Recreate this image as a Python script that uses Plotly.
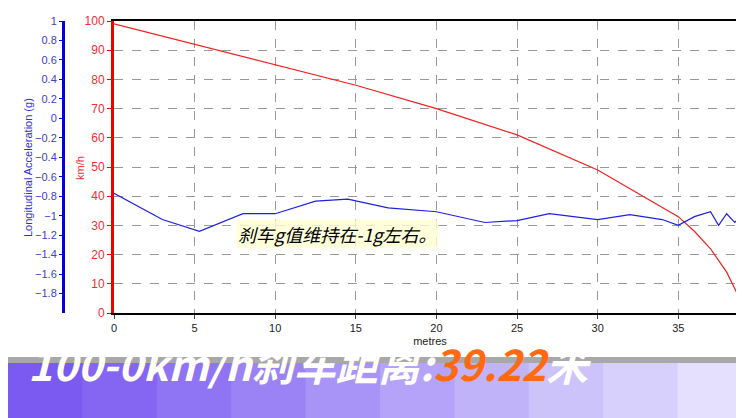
import plotly.graph_objects as go

red_x = [0, 5, 10, 15, 20, 25, 30, 33, 35, 36, 37, 38, 38.8]
red_kmh = [99, 92, 85, 78, 70, 61, 49, 39.5, 33, 28, 22, 14, 5]
blue_x = [0, 3, 5.3, 8, 10, 12.5, 14.5, 17, 20, 23, 25, 27, 30, 32, 34, 35, 36, 37, 37.5, 38, 38.5, 39]
blue_g = [-0.77, -1.04, -1.16, -0.98, -0.98, -0.85, -0.83, -0.92, -0.96, -1.07, -1.05, -0.98, -1.04, -0.99, -1.04, -1.1, -1.01, -0.96, -1.1, -0.98, -1.07, -0.98]
kmh_ticks = list(range(0, 101, 10))
g_ticks = [1, 0.8, 0.6, 0.4, 0.2, 0, -0.2, -0.4, -0.6, -0.8, -1, -1.2, -1.4, -1.6, -1.8]
x_ticks = [0, 5, 10, 15, 20, 25, 30, 35]

W, H = 744, 418
fig = go.Figure()
fig.add_trace(go.Scatter(x=blue_x, y=blue_g, mode="lines", line=dict(color="#2020e0", width=1.2), yaxis="y2"))
fig.add_trace(go.Scatter(x=red_x, y=red_kmh, mode="lines", line=dict(color="#f02020", width=1.2)))

fig.update_layout(
    width=W, height=H, showlegend=False, plot_bgcolor="white", paper_bgcolor="white",
    margin=dict(l=0, r=0, t=13, b=113, autoexpand=False),
    font=dict(family="Liberation Sans, Arial", size=11),
    xaxis=dict(domain=[106/W, 738/W], range=[0, 39.2], tickvals=x_ticks, showgrid=True, automargin=False,
               gridcolor="#999", griddash="dash", zeroline=False, showline=True, linecolor="black",
               linewidth=2, mirror=True, ticks="outside", ticklen=4, tickfont=dict(color="#222", size=11),
               title=dict(text="metres", font=dict(size=11, color="#222"), standoff=4)),
    yaxis=dict(range=[0, 100], tickvals=kmh_ticks, showgrid=True, gridcolor="#999", griddash="dash",
               automargin=False,
               zeroline=False, showline=True, linecolor="#f00000", linewidth=3, ticks="outside", ticklen=4,
               tickcolor="#f00000", tickfont=dict(color="#f03030", size=12)),
    yaxis2=dict(range=[-2, 1], tickvals=g_ticks, overlaying="y", anchor="free", position=55/W, side="left",
                automargin=False,
                showgrid=False, zeroline=False, showline=True, linecolor="#0000e0", linewidth=3,
                ticks="outside", ticklen=3, tickcolor="#0000e0", tickfont=dict(color="#4040d0", size=11)),
)

cols = ["#7a5af0", "#8466f2", "#8f74f4", "#9b83f5", "#a893f7", "#b4a3f8", "#c0b3fa", "#ccc3fb", "#d7d0fc", "#e4e0fd"]
ph = H - 13 - 113
def py(px):
    return (H - 113 - px) / ph
for i, c in enumerate(cols):
    fig.add_shape(type="rect", xref="paper", yref="paper", x0=i/len(cols), x1=(i+1)/len(cols)+0.002,
                  y0=py(418), y1=py(355), fillcolor=c, line=dict(width=0), layer="above")
fig.add_shape(type="rect", xref="paper", yref="paper", x0=0, x1=1, y0=py(355), y1=py(349),
              fillcolor="#a8a8a8", line=dict(width=0), layer="above")
fig.add_annotation(xref="paper", yref="paper", x=18/W, y=py(387), xanchor="left", showarrow=False,
                   text="<b><i>100-0km/h刹车距离:<span style='color:#ff6a10'>39.22</span>米</i></b>",
                   font=dict(family="Noto Sans CJK SC, Liberation Sans", size=42, color="white"))
fig.add_annotation(xref="paper", yref="paper", x=228/W, y=py(241), xanchor="left", showarrow=False,
                   text="<i>刹车g值维持在-1g左右。</i>", bgcolor="rgba(255,255,210,0.8)",
                   font=dict(family="Noto Sans CJK SC", size=18, color="black"))
fig.add_annotation(xref="paper", yref="paper", x=12/W, y=py(160), showarrow=False, textangle=-90,
                   text="Longitudinal Acceleration (g)", font=dict(size=11, color="#3030d0"))
fig.add_annotation(xref="paper", yref="paper", x=64/W, y=py(160), showarrow=False, textangle=-90,
                   text="km/h", font=dict(size=11, color="#f03030"))
fig.write_html("out.html")
